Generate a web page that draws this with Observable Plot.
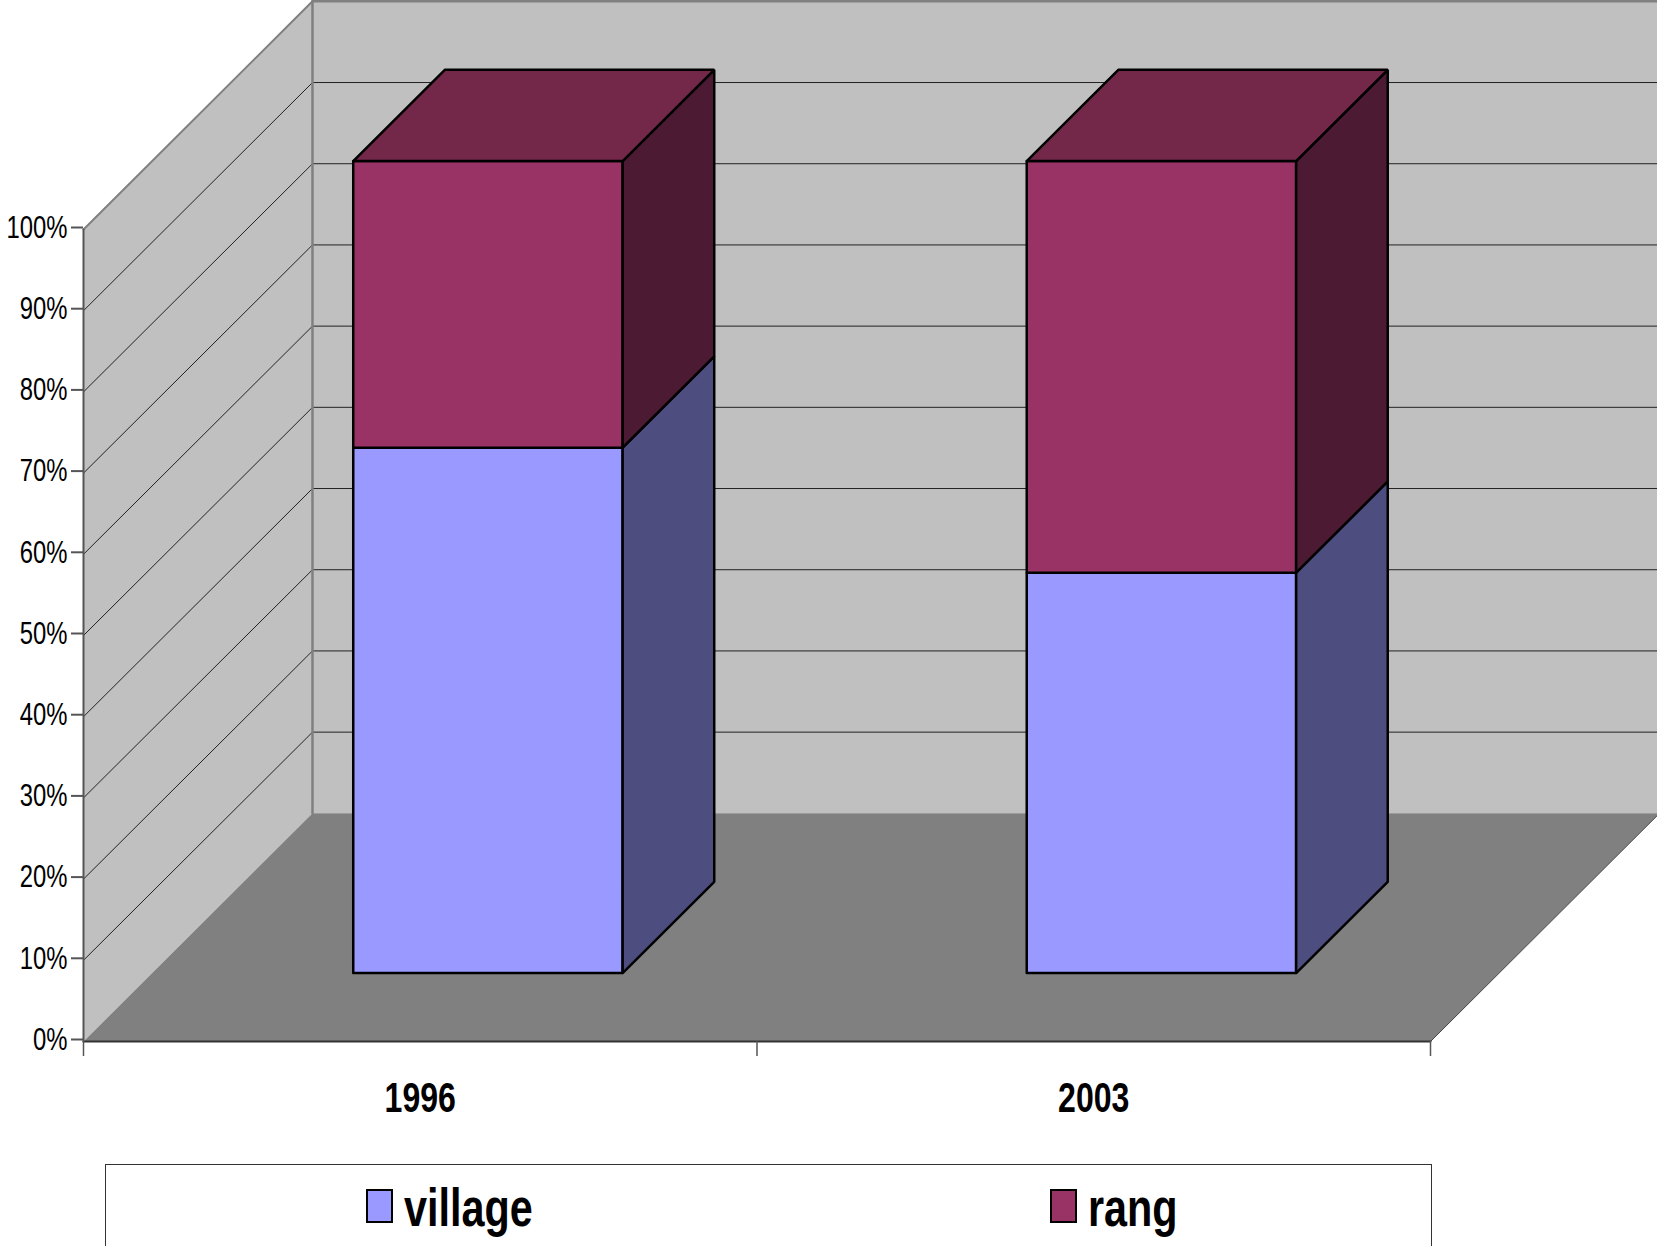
<!DOCTYPE html>
<html>
<head>
<meta charset="utf-8">
<script src="https://cdn.jsdelivr.net/npm/d3@7"></script>
<script src="https://cdn.jsdelivr.net/npm/@observablehq/plot@0.6"></script>
<style>
html,body{margin:0;padding:0;background:#fff;width:1657px;height:1246px;overflow:hidden}
#chart svg{display:block}
#legend{position:absolute;left:105px;top:1164px;width:1327px;height:120px;border:1px solid #333;box-sizing:border-box;font-family:"Liberation Sans",Arial,sans-serif;font-weight:bold;font-size:53px;color:#000}
#legend .sw{position:absolute;top:24px;height:34px;border:2px solid #000;box-sizing:border-box}
#legend .lb{position:absolute;top:13px;line-height:60px;transform:scaleX(.78);transform-origin:left center;white-space:nowrap}
</style>
</head>
<body>
<div id="chart"></div>
<div id="legend"></div>
<script>
const years = ["1996", "2003"];
const seriesNames = ["village", "rang"];
const village = [64.7, 49.3];
const rang = [35.3, 50.7];
const yTicks = [0, 10, 20, 30, 40, 50, 60, 70, 80, 90, 100];

const colors = {
  wall: "#C0C0C0", floor: "#808080", edge: "#808080",
  village: "#9999FF", villageSide: "#4D4D80",
  rang: "#993366", rangSide: "#4C1A33", rangTop: "#732849"
};

// oblique projection of (category position, percent, depth 0..1) into scale units
const depthX = 0.34, depthY = 28.1;
const P = (c, v, d) => [c + d * depthX, v + d * depthY];
const face = (pts, fill, stroke, strokeWidth) =>
  Plot.line([...pts, pts[0]].map(p => P(...p)), {
    x: d => d[0], y: d => d[1], fill, stroke: stroke || "none", strokeWidth: strokeWidth || 0,
    strokeLinejoin: "miter"
  });
const seg = (a, b, stroke, strokeWidth) =>
  Plot.line([a, b].map(p => P(...p)), {x: d => d[0], y: d => d[1], stroke, strokeWidth});

const gridV = yTicks.slice(1, -1);
const marks = [
  // walls and floor
  face([[0,0,0],[0,100,0],[0,100,1],[0,0,1]], colors.wall),
  face([[0,0,1],[0,100,1],[2.1,100,1],[2.1,0,1]], colors.wall),
  ...gridV.map(v => seg([0,v,0],[0,v,1],"#222",1)),
  ...gridV.map(v => seg([0,v,1],[2.1,v,1],"#222",1)),
  face([[0,0,0],[2,0,0],[2,0,1],[0,0,1]], colors.floor),
  seg([0,100,0],[0,100,1],colors.edge,2),
  seg([0,100,1],[2.1,100,1],colors.edge,2.5),
  seg([0,0,1],[0,100,1],colors.edge,2.5),
  seg([2,0,0],[2,0,1],"#444",1),
  seg([0,0,0],[2,0,0],"#333",2),
  seg([0,0,0],[0,100,0],"#555",2),
];

// bars
const x0 = 0.2985, bw = 0.4, dF = 0.3, dB = 0.7;
years.forEach((y, i) => {
  const l = i + x0, r = i + x0 + bw, a = village[i], t = a + rang[i], S = "#000", W = 2.5;
  marks.push(
    face([[l,0,dF],[r,0,dF],[r,a,dF],[l,a,dF]], colors.village, S, W),
    face([[r,0,dF],[r,0,dB],[r,a,dB],[r,a,dF]], colors.villageSide, S, W),
    face([[l,a,dF],[r,a,dF],[r,t,dF],[l,t,dF]], colors.rang, S, W),
    face([[r,a,dF],[r,a,dB],[r,t,dB],[r,t,dF]], colors.rangSide, S, W),
    face([[l,t,dF],[r,t,dF],[r,t,dB],[l,t,dB]], colors.rangTop, S, W)
  );
});

marks.push(
  Plot.axisY({anchor: "left", ticks: yTicks, tickFormat: d => d + "%", tickSize: 12, tickPadding: 4,
    fontSize: 32, stroke: "#555", strokeWidth: 2, label: null, color: "#000", dy: -2}),
  Plot.axisX({anchor: "bottom", ticks: [0, 1, 2], tickFormat: () => "", tickSize: 15, stroke: "#555", strokeWidth: 1.5, label: null}),
  Plot.text(years, {x: (d, i) => i + 0.5, y: () => 0, text: d => d, dy: 57, fontSize: 43,
    fontWeight: "bold", fill: "#000", lineAnchor: "middle"})
);

const H = 1160;
const plot = Plot.plot({
  width: 1657, height: H,
  marginLeft: 83, marginRight: 227, marginTop: 229, marginBottom: H - 1041,
  x: {domain: [0, 2]},
  y: {domain: [0, 100]},
  style: {fontFamily: "'Liberation Sans', Arial, sans-serif", background: "#fff", overflow: "hidden"},
  marks
});
document.getElementById("chart").appendChild(plot);

// squeeze the glyphs to the condensed look of the original
plot.querySelectorAll("text").forEach(t => {
  const w = t.getComputedTextLength();
  if (w > 0) {
    t.setAttribute("textLength", (w * 0.745).toFixed(1));
    t.setAttribute("lengthAdjust", "spacingAndGlyphs");
  }
});

// legend below the svg
const legend = document.getElementById("legend");
const swLeft = [260, 944], swW = [27, 27], lbLeft = [298, 982];
seriesNames.forEach((n, i) => {
  const s = document.createElement("div");
  s.className = "sw";
  s.style.left = swLeft[i] + "px";
  s.style.width = swW[i] + "px";
  s.style.background = colors[n];
  legend.appendChild(s);
  const l = document.createElement("div");
  l.className = "lb";
  l.style.left = lbLeft[i] + "px";
  l.textContent = n;
  legend.appendChild(l);
});
</script>
</body>
</html>
